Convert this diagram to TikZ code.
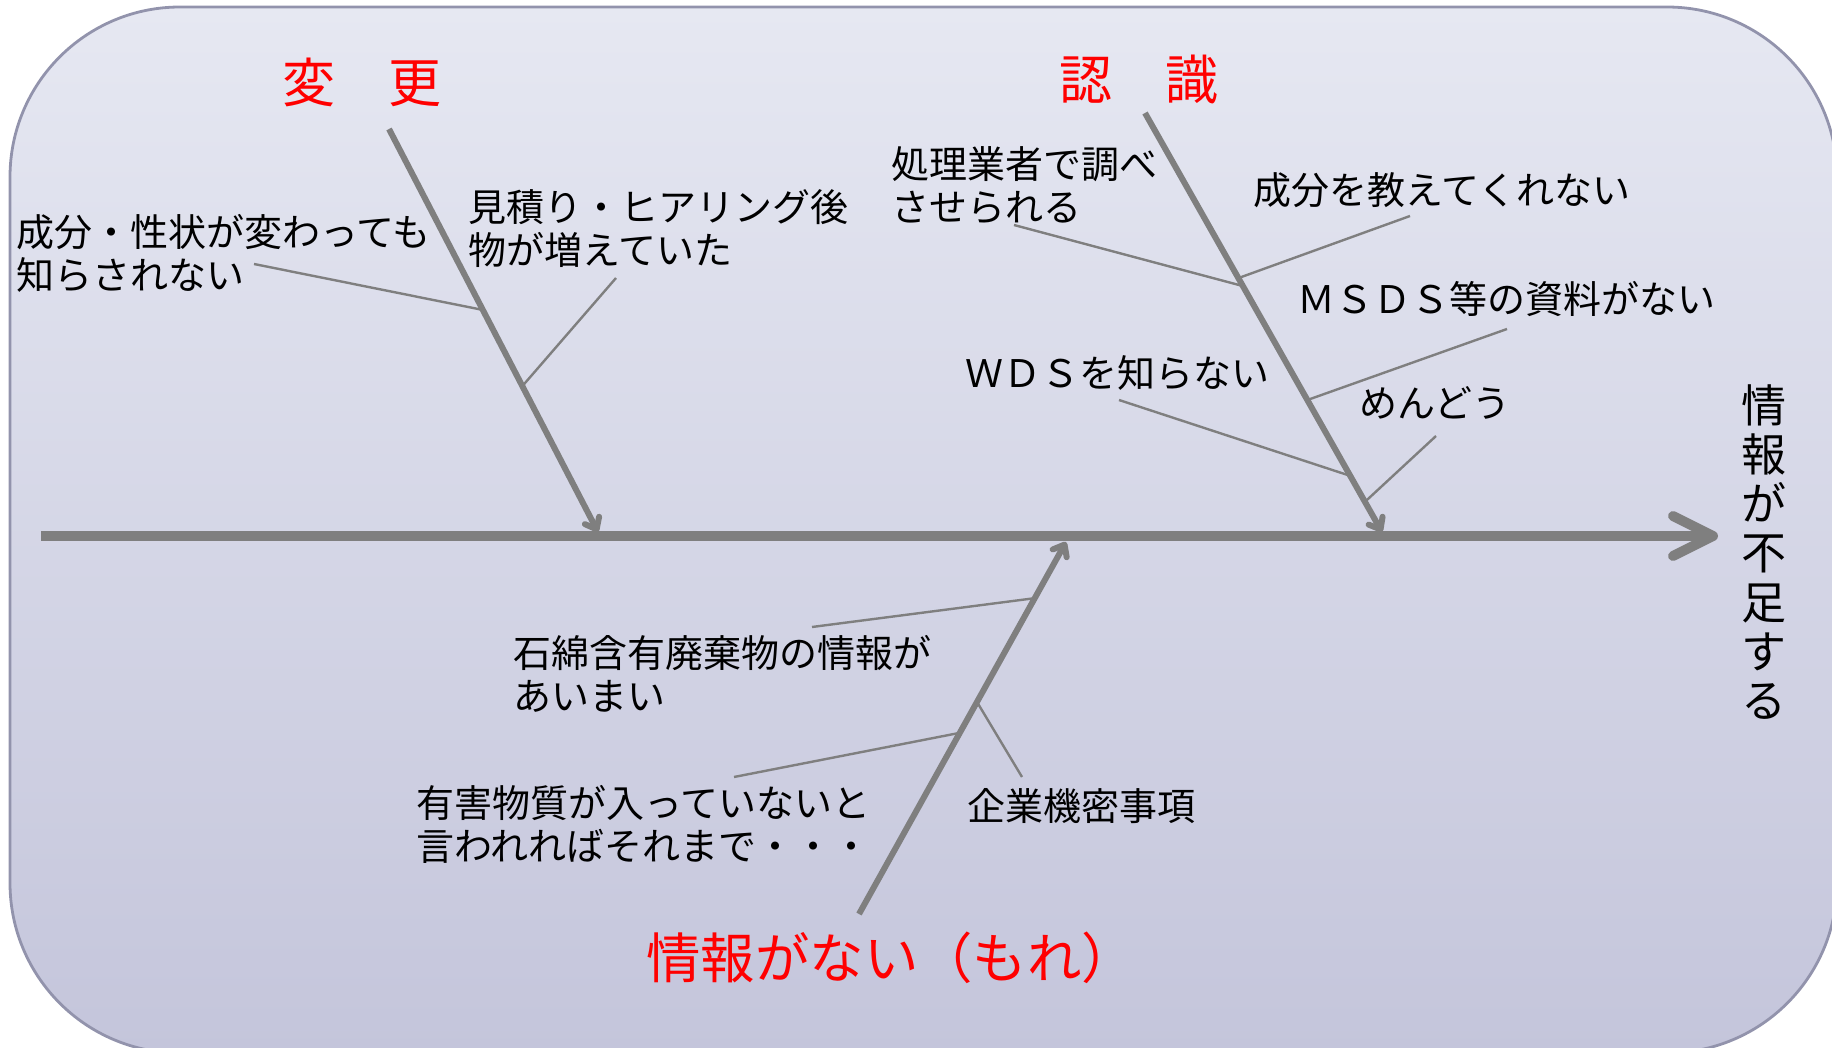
\documentclass[tikz,border=0pt]{standalone}
\usepackage{fontspec}
\setmainfont{Noto Sans CJK JP}
\usetikzlibrary{arrows.meta,calc}
\definecolor{bgtop}{HTML}{E6E8F2}
\definecolor{bgbot}{HTML}{C4C5DB}
\definecolor{framecol}{HTML}{9293AC}
\definecolor{bonegray}{HTML}{7F7F7F}
\tikzset{
  spine/.style={draw=bonegray, line width=5pt, -{Straight Barb[length=20pt,width=20pt,round]}},
  branch/.style={draw=bonegray, line width=3pt, -{Straight Barb[length=5pt,width=8pt,round]}},
  twig/.style={draw=bonegray, line width=1.2pt},
  lbl/.style={font=\fontsize{19pt}{21.5pt}\selectfont, inner sep=0pt, anchor=west, align=left},
  head/.style={font=\fontsize{26.5pt}{30pt}\selectfont, text=red, inner sep=0pt, anchor=west},
}
\begin{document}
\begin{tikzpicture}[x=0.5pt,y=-0.5pt]
\path[use as bounding box] (0,0) rectangle (1832,1048);
\begin{scope}
\clip (0,0) rectangle (1832,1048);
\path[draw=framecol, line width=1.4pt, top color=bgtop, bottom color=bgbot, rounded corners=85pt] (10,7) rectangle (1837,1053);
\end{scope}

% spine
\coordinate (S1) at (41,536);
\coordinate (S2) at (1718,536);
\draw[spine] (S1) -- (S2);
\node[font=\fontsize{22.5pt}{24.6pt}\selectfont, align=center, inner sep=0pt] (res) at (1764,552) {情\\報\\が\\不\\足\\す\\る};

% headings
\node[head] (tA) at (282,82) {変　更};
\node[head, font=\fontsize{26.5pt}{30pt}\selectfont] (tB) at (1059,79) {認　識};
\node[head, font=\fontsize{27.2pt}{30pt}\selectfont] (tC) at (646,958) {情報がない（もれ）};

% branches
\coordinate (A1) at (389,129); \coordinate (A2) at (598,532);
\coordinate (B1) at (1145,113); \coordinate (B2) at (1382,532);
\coordinate (C1) at (859,914); \coordinate (C2) at (1066,542);
\draw[branch] (A1) -- (A2);
\draw[branch] (B1) -- (B2);
\draw[branch] (C1) -- (C2);

% labels
\node[lbl] (l1) at (16,253) {成分・性状が変わっても\\知らされない};
\node[lbl] (l2) at (468,229) {見積り・ヒアリング後\\物が増えていた};
\node[lbl] (l3) at (891,185) {処理業者で調べ\\させられる};
\node[lbl] (l4) at (1253,190) {成分を教えてくれない};
\node[lbl] (l5) at (1297,299) {ＭＳＤＳ等の資料がない};
\node[lbl] (l6) at (965,373) {ＷＤＳを知らない};
\node[lbl] (l7) at (1359,403) {めんどう};
\node[lbl] (l8) at (513,674) {石綿含有廃棄物の情報が\\あいまい};
\node[lbl] (l9) at (416,824) {有害物質が入っていないと\\言われればそれまで・・・};
\node[lbl] (l10) at (967,806) {企業機密事項};

% twig ends
\coordinate (e1) at (254,264);  \coordinate (a1) at ($(A1)!0.449!(A2)$);
\coordinate (e2) at (616,278);  \coordinate (a2) at ($(A1)!0.638!(A2)$);
\coordinate (e3) at (1014,225); \coordinate (b3) at ($(B1)!0.413!(B2)$);
\coordinate (e4) at (1410,216); \coordinate (b4) at ($(B1)!0.394!(B2)$);
\coordinate (e5) at (1507,329); \coordinate (b5) at ($(B1)!0.685!(B2)$);
\coordinate (e6) at (1119,400); \coordinate (b6) at ($(B1)!0.866!(B2)$);
\coordinate (e7) at (1436,436); \coordinate (b7) at ($(B1)!0.928!(B2)$);
\coordinate (e8) at (812,627);  \coordinate (c8) at ($(C1)!0.849!(C2)$);
\coordinate (e9) at (734,777);  \coordinate (c9) at ($(C1)!0.487!(C2)$);
\coordinate (e10) at (1022,777); \coordinate (c10) at ($(C1)!0.570!(C2)$);
\draw[twig] (e1) -- (a1);
\draw[twig] (e2) -- (a2);
\draw[twig] (e3) -- (b3);
\draw[twig] (e4) -- (b4);
\draw[twig] (e5) -- (b5);
\draw[twig] (e6) -- (b6);
\draw[twig] (e7) -- (b7);
\draw[twig] (e8) -- (c8);
\draw[twig] (e9) -- (c9);
\draw[twig] (e10) -- (c10);
\end{tikzpicture}
\end{document}
